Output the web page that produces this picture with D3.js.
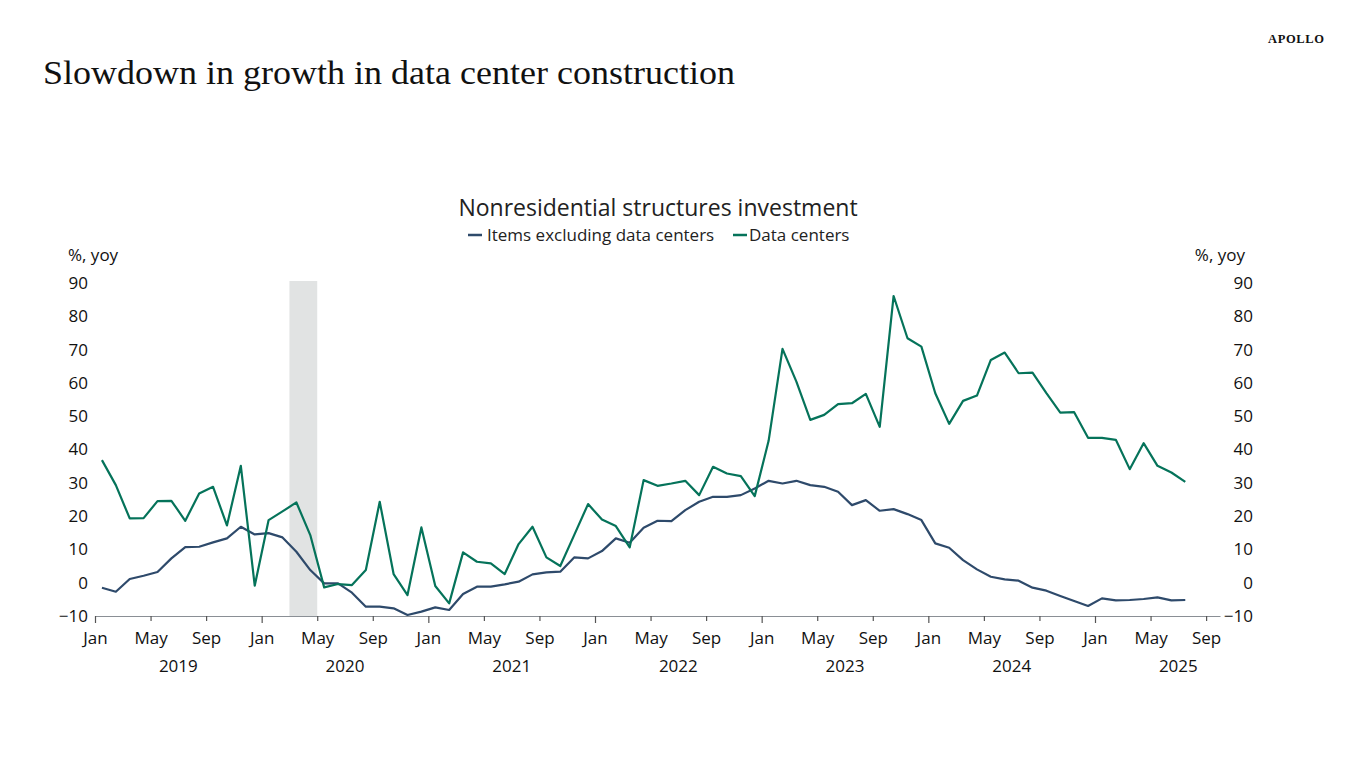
<!DOCTYPE html>
<html>
<head>
<meta charset="utf-8">
<script src="https://cdn.jsdelivr.net/npm/d3@7"></script>
<style>
  html, body { margin: 0; padding: 0; background: #fff; }
  svg { display: block; }
</style>
</head>
<body>
<svg id="chart" width="1366" height="768"></svg>
<script>
// ---------------- DATA ----------------
const startYear = 2019;
const dataCenters = [
  36.8, 29.3, 19.3, 19.4, 24.5, 24.6, 18.6, 26.8, 28.8, 17.2, 35.1, -0.9,
  18.8, 21.4, 24.1, 14.3, -1.4, -0.4, -0.7, 3.8, 24.3, 2.6, -3.7, 16.6,
  -1.0, -6.2, 9.1, 6.3, 5.8, 2.6, 11.6, 16.8, 7.6, 5.0, 14.3, 23.6,
  19.0, 17.0, 10.6, 30.8, 29.1, 29.8, 30.6, 26.3, 34.8, 32.8, 32.0, 26.0,
  42.6, 70.2, 60.4, 48.9, 50.4, 53.6, 53.9, 56.7, 46.8, 86.1, 73.4, 70.9,
  56.9, 47.7, 54.6, 56.2, 66.9, 69.1, 62.9, 63.1, 56.9, 51.1, 51.2, 43.5,
  43.5, 42.9, 34.1, 41.9, 35.1, 33.1, 30.3
];
const itemsExDataCenters = [
  -1.5, -2.7, 1.1, 2.1, 3.2, 7.3, 10.7, 10.8, 12.1, 13.3, 16.8, 14.5,
  14.9, 13.6, 9.3, 3.8, -0.2, -0.2, -3.0, -7.2, -7.2, -7.7, -9.7, -8.7,
  -7.4, -8.2, -3.4, -1.2, -1.2, -0.5, 0.3, 2.5, 3.1, 3.3, 7.6, 7.3,
  9.5, 13.3, 12.0, 16.5, 18.6, 18.5, 21.8, 24.3, 25.8, 25.8, 26.3, 28.3,
  30.6, 29.8, 30.6, 29.3, 28.8, 27.3, 23.3, 24.8, 21.6, 22.1, 20.6, 18.8,
  11.8, 10.5, 6.8, 4.0, 1.8, 1.0, 0.6, -1.5, -2.4, -4.0, -5.5, -7.0,
  -4.7, -5.3, -5.2, -4.9, -4.4, -5.3, -5.2
];
const seriesNames = ["Items excluding data centers", "Data centers"];
const yTicks = [-10, 0, 10, 20, 30, 40, 50, 60, 70, 80, 90];
const monthTickLabels = ["Jan", "May", "Sep"];       // every 4 months
const yearLabels = [2019, 2020, 2021, 2022, 2023, 2024, 2025];
const recession = [14, 16];                           // month index: Mar 2020 – end Apr 2020
const totalMonths = 81;                               // Jan 2019 – Oct 2025 axis span

const title = "Slowdown in growth in data center construction";
const chartTitle = "Nonresidential structures investment";
const axisTitle = "%, yoy";

// ---------------- STYLE / LAYOUT ----------------
const colorBlue = "#2e4a6b";
const colorGreen = "#05735a";
const font = "'Open Sans', 'Noto Sans', sans-serif";
const fs = 17;
const plot = { left: 95, right: 1220, top: 283, bottom: 616 };

const svg = d3.select("#chart");

const x = d3.scaleLinear().domain([0, totalMonths]).range([plot.left, plot.right]);
const y = d3.scaleLinear().domain([-10, 90]).range([plot.bottom, plot.top]);

// Titles
svg.append("text")
  .attr("x", 43).attr("y", 84)
  .attr("font-family", "'Liberation Serif', 'DejaVu Serif', serif")
  .attr("font-size", 34)
  .attr("fill", "#111")
  .attr("textLength", 692).attr("lengthAdjust", "spacingAndGlyphs")
  .text(title);

svg.append("text")
  .attr("x", 1324).attr("y", 43)
  .attr("text-anchor", "end")
  .attr("font-family", "'Liberation Serif', serif")
  .attr("font-size", 12.5)
  .attr("font-weight", 600)
  .attr("fill", "#111")
  .attr("textLength", 56).attr("lengthAdjust", "spacing")
  .text("APOLLO");

svg.append("text")
  .attr("x", 658).attr("y", 216)
  .attr("text-anchor", "middle")
  .attr("font-family", font)
  .attr("font-size", 23)
  .attr("fill", "#222")
  .text(chartTitle);

// Legend
const legendItems = [
  { name: seriesNames[0], color: colorBlue, x0: 468, tx: 487 },
  { name: seriesNames[1], color: colorGreen, x0: 733, tx: 749 }
];
const lg = svg.append("g");
legendItems.forEach(it => {
  lg.append("line")
    .attr("x1", it.x0).attr("x2", it.x0 + 14)
    .attr("y1", 235).attr("y2", 235)
    .attr("stroke", it.color).attr("stroke-width", 2.5);
  lg.append("text")
    .attr("x", it.tx).attr("y", 241)
    .attr("font-family", font).attr("font-size", fs)
    .attr("fill", "#222")
    .text(it.name);
});

// Recession shading
svg.append("rect")
  .attr("x", x(recession[0]))
  .attr("width", x(recession[1]) - x(recession[0]))
  .attr("y", y(90) - 2)
  .attr("height", y(-10) - y(90) + 2)
  .attr("fill", "#e1e3e3");

// Y axes labels (no grid)
const yLeft = d3.axisLeft(y).tickValues(yTicks).tickSize(0).tickPadding(7);
const gl = svg.append("g").attr("transform", `translate(${plot.left},0)`).call(yLeft);
gl.select(".domain").remove();
gl.selectAll("text").attr("font-family", font).attr("font-size", fs).attr("fill", "#111");

const yRight = d3.axisRight(y).tickValues(yTicks).tickSize(0).tickPadding(0);
const gr = svg.append("g").attr("transform", `translate(1253,0)`).call(yRight);
gr.select(".domain").remove();
gr.selectAll("text").attr("font-family", font).attr("font-size", fs).attr("fill", "#111")
  .attr("text-anchor", "end").attr("x", 0);

svg.append("text").attr("x", 68).attr("y", 261)
  .attr("font-family", font).attr("font-size", fs).attr("fill", "#111").text(axisTitle);
svg.append("text").attr("x", 1245).attr("y", 261).attr("text-anchor", "end")
  .attr("font-family", font).attr("font-size", fs).attr("fill", "#111").text(axisTitle);

// X axis
const monthTickVals = d3.range(0, totalMonths + 1, 4);
const xAxis = d3.axisBottom(x)
  .tickValues(monthTickVals)
  .tickSize(0)
  .tickPadding(16)
  .tickFormat(d => monthTickLabels[(d / 4) % 3]);
const gx = svg.append("g").attr("transform", `translate(0,${plot.bottom})`).call(xAxis);
gx.select(".domain").attr("stroke", "#8a8f95").attr("stroke-width", 1.2);
gx.selectAll(".tick line").remove();
gx.selectAll(".tick").append("line")
  .attr("y1", 0)
  .attr("y2", d => (d % 12 === 0 ? 7 : 5))
  .attr("stroke", "#555").attr("stroke-width", 1.2);
gx.selectAll("text").attr("font-family", font).attr("font-size", fs).attr("fill", "#111");

const gy = svg.append("g");
yearLabels.forEach((yr, i) => {
  gy.append("text")
    .attr("x", x(i * 12 + 6))
    .attr("y", 672)
    .attr("text-anchor", "middle")
    .attr("font-family", font).attr("font-size", fs).attr("fill", "#111")
    .text(yr);
});

// Lines
const line = d3.line()
  .x((d, i) => x(i + 0.5))
  .y(d => y(d));

svg.append("path").datum(itemsExDataCenters)
  .attr("fill", "none").attr("stroke", colorBlue).attr("stroke-width", 2.2)
  .attr("stroke-linejoin", "round")
  .attr("d", line);

svg.append("path").datum(dataCenters)
  .attr("fill", "none").attr("stroke", colorGreen).attr("stroke-width", 2.2)
  .attr("stroke-linejoin", "round")
  .attr("d", line);
</script>
</body>
</html>
